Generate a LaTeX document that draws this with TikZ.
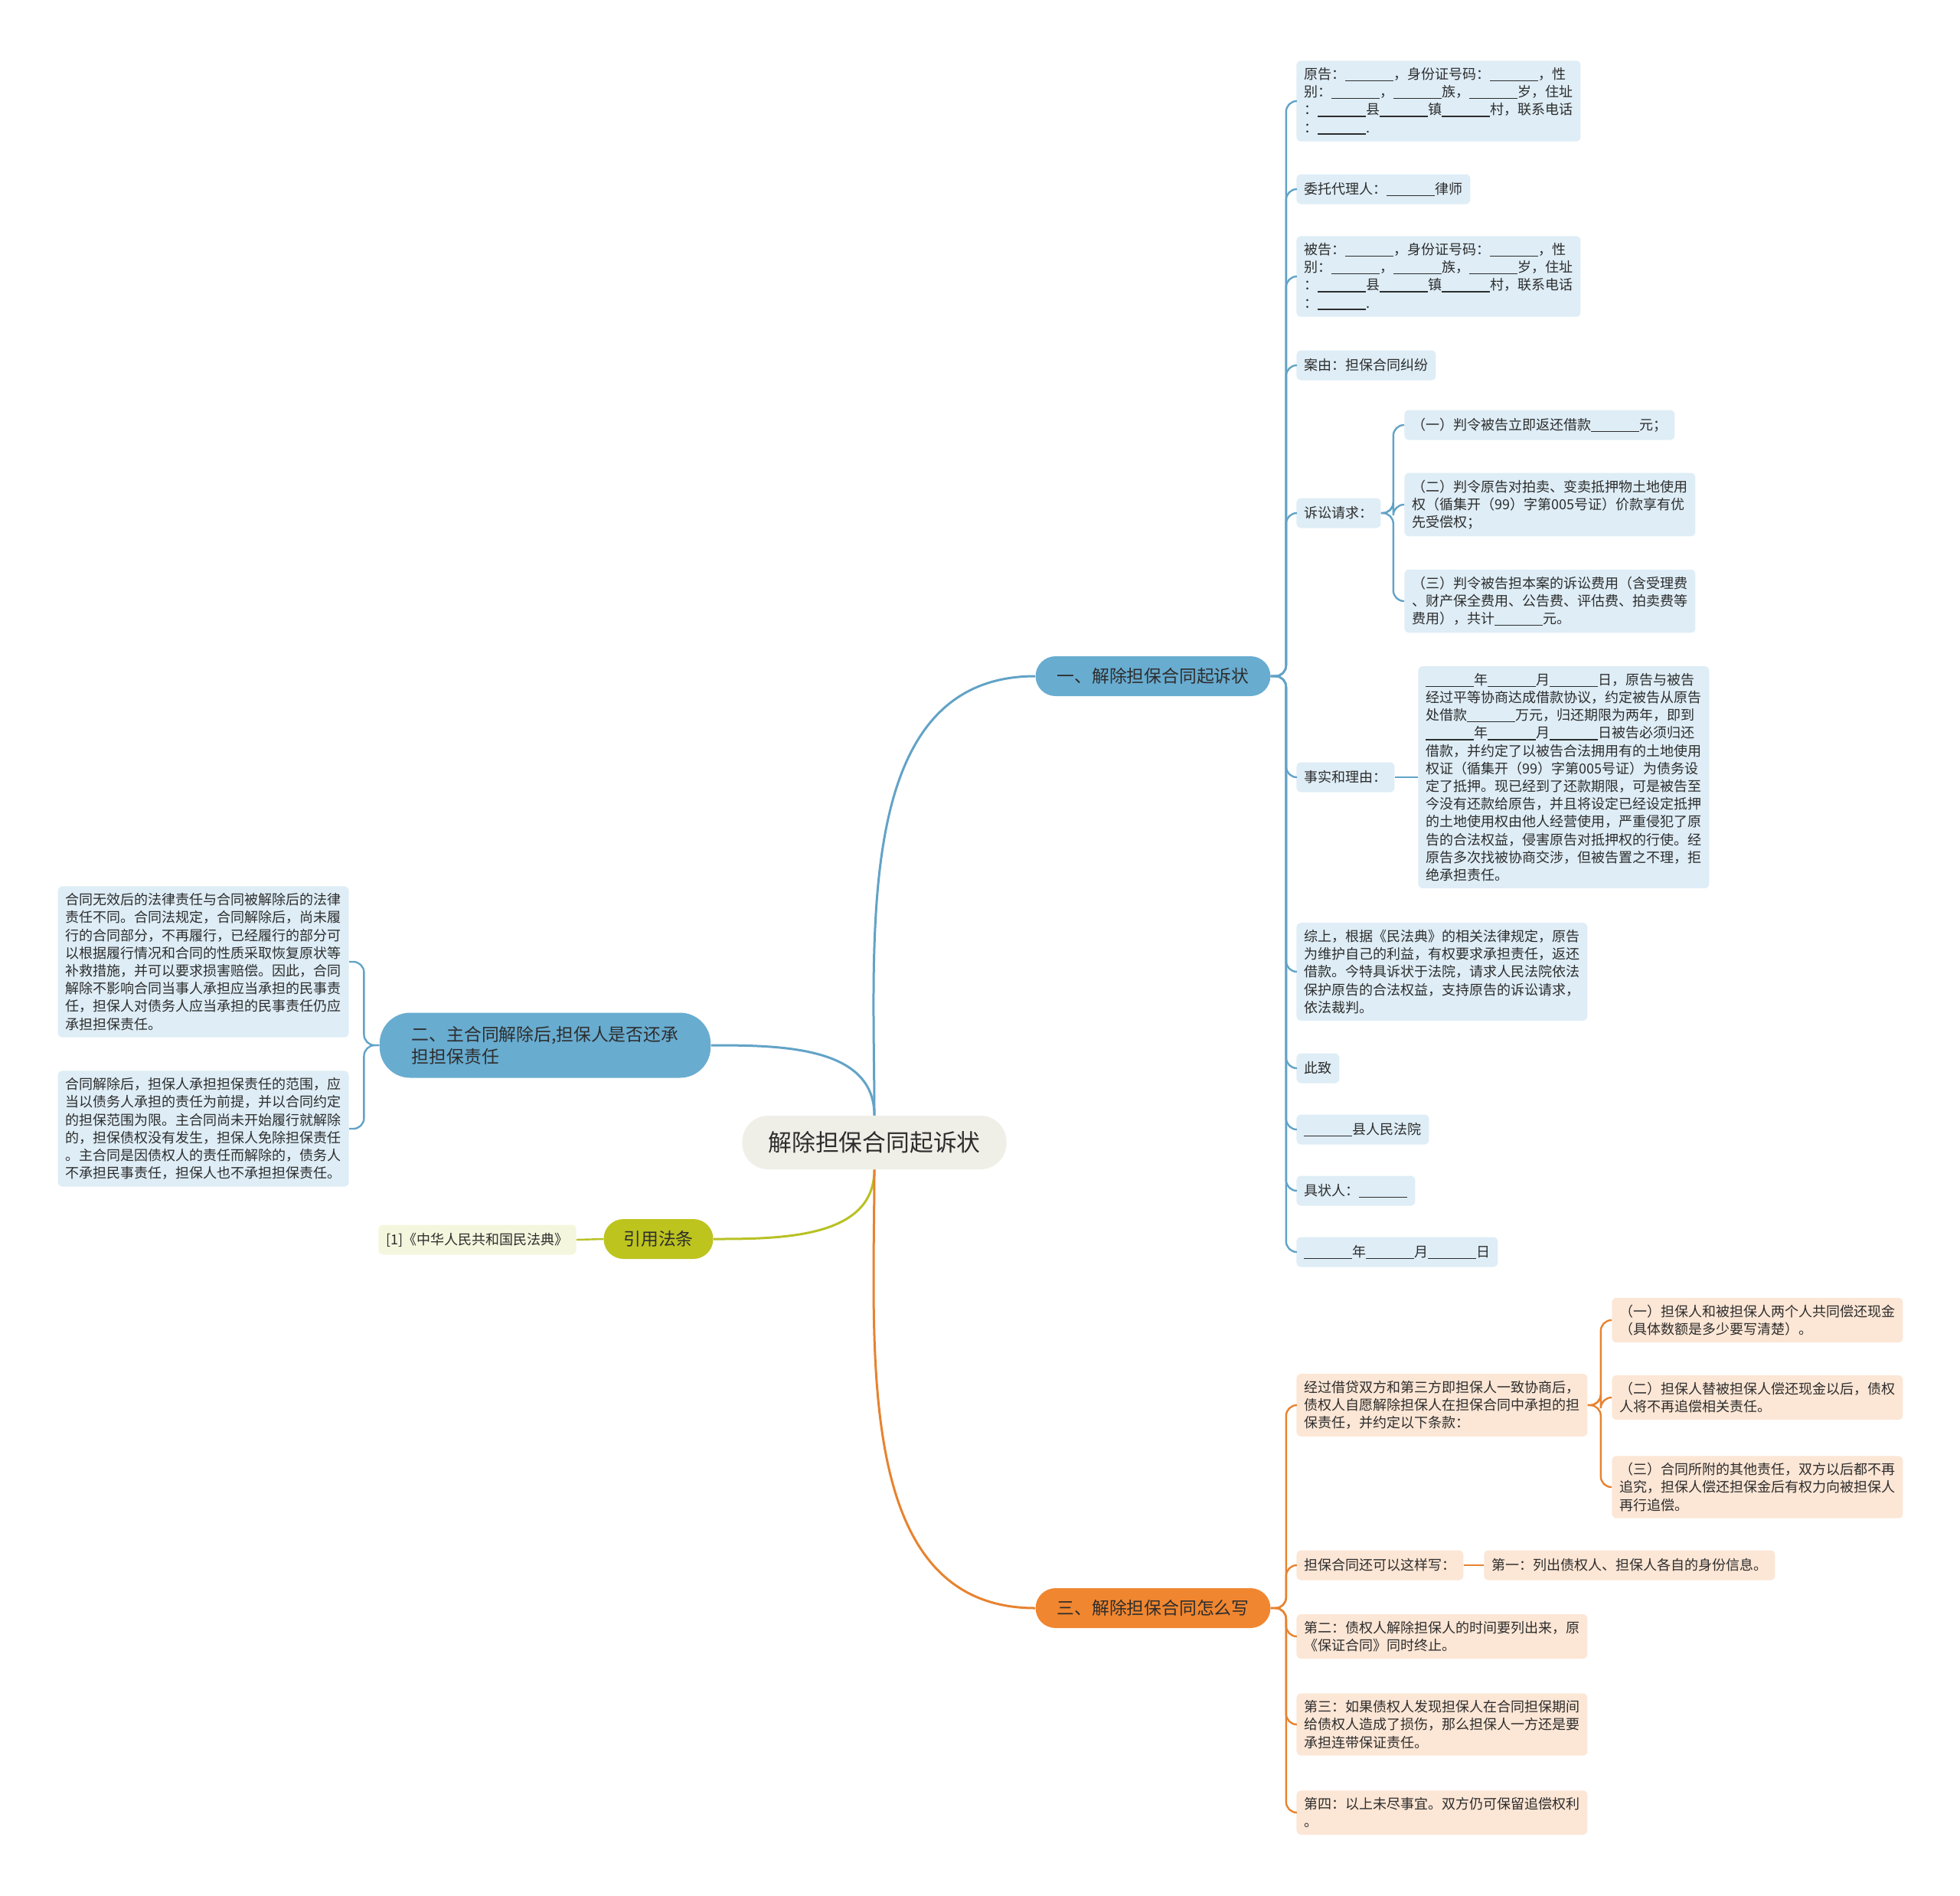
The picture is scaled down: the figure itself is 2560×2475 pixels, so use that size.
\documentclass[tikz,border=0pt]{standalone}
\usepackage{fontspec}
\setmainfont{Noto Sans CJK SC}
\newcommand{\fillin}{\rule[-0.15em]{3.5em}{0.7pt}}
\begin{document}
\begin{tikzpicture}[x=0.5pt, y=-0.5pt,
    every node/.style={text=txt},
    leaf/.style={fill=#1, rounded corners=3pt, align=left, inner xsep=5pt, inner ysep=4.5pt,
      minimum height=19.5pt, font=\fontsize{9}{11.6}\selectfont},
    branch/.style={fill=#1, rounded corners=13pt, minimum height=26pt, inner xsep=14pt,
      font=\fontsize{11.4}{14.7}\selectfont},
    twig/.style={line width=1.2pt, rounded corners=7pt}]
  \definecolor{txt}{RGB}{45,45,45}
  \definecolor{rootfill}{RGB}{240,239,231}
  \definecolor{blueline}{RGB}{98,163,199}
  \definecolor{bluefill}{RGB}{104,172,208}
  \definecolor{blueleaf}{RGB}{222,237,246}
  \definecolor{greenline}{RGB}{184,193,36}
  \definecolor{greenfill}{RGB}{189,196,30}
  \definecolor{greenleaf}{RGB}{245,246,222}
  \definecolor{orangeline}{RGB}{231,131,48}
  \definecolor{orangefill}{RGB}{240,134,48}
  \definecolor{orangeleaf}{RGB}{252,230,213}
  \useasboundingbox (0,0) rectangle (2560,2475);

  % centre and main branches
  \node[fill=rootfill, rounded corners=17pt, minimum height=35pt, inner xsep=17pt,
    font=\fontsize{15.4}{18}\selectfont] (root) at (1142,1492) {解除担保合同起诉状};
  \node[branch=bluefill] (b1) at (1506,883) {一、解除担保合同起诉状};
  \node[branch=bluefill, align=left, rounded corners=20pt, minimum height=42.5pt, inner xsep=21pt]
    (b2) at (712,1365) {二、主合同解除后,担保人是否还承\\担担保责任};
  \node[branch=greenfill, inner xsep=13pt] (b3) at (860,1618) {引用法条};
  \node[branch=orangefill] (b4) at (1506,2100) {三、解除担保合同怎么写};

  \draw[blueline, line width=1.5pt] (root.north) to[out=90, in=180] (b1.west);
  \draw[blueline, line width=1.5pt] (root.north) to[out=90, in=0] (b2.east);
  \draw[greenline, line width=1.5pt] (root.south) to[out=-90, in=0] (b3.east);
  \draw[orangeline, line width=1.5pt] (root.south) to[out=-90, in=180] (b4.west);

  % branch 1: the complaint
  \node[leaf=blueleaf, anchor=west] (plaintiff) at (1693,132)
    {原告：\fillin，身份证号码：\fillin，性\\别：\fillin，\fillin 族，\fillin 岁，住址\\：\fillin 县\fillin 镇\fillin 村，联系电话\\：\fillin .};
  \node[leaf=blueleaf, anchor=west] (agent) at (1693,247) {委托代理人：\fillin 律师};
  \node[leaf=blueleaf, anchor=west] (defendant) at (1693,361)
    {被告：\fillin，身份证号码：\fillin，性\\别：\fillin，\fillin 族，\fillin 岁，住址\\：\fillin 县\fillin 镇\fillin 村，联系电话\\：\fillin .};
  \node[leaf=blueleaf, anchor=west] (cause) at (1693,477) {案由：担保合同纠纷};
  \node[leaf=blueleaf, anchor=west] (claims) at (1693,670) {诉讼请求：};
  \node[leaf=blueleaf, anchor=west] (claim1) at (1834,555) {（一）判令被告立即返还借款\fillin 元；};
  \node[leaf=blueleaf, anchor=west] (claim2) at (1834,659)
    {（二）判令原告对拍卖、变卖抵押物土地使用\\权（循集开（99）字第005号证）价款享有优\\先受偿权；};
  \node[leaf=blueleaf, anchor=west] (claim3) at (1834,785)
    {（三）判令被告担本案的诉讼费用（含受理费\\、财产保全费用、公告费、评估费、拍卖费等\\费用），共计\fillin 元。};
  \node[leaf=blueleaf, anchor=west] (facts) at (1693,1015) {事实和理由：};
  \node[leaf=blueleaf, anchor=west] (reason) at (1852,1015)
    {\fillin 年\fillin 月\fillin 日，原告与被告\\
     经过平等协商达成借款协议，约定被告从原告\\
     处借款\fillin 万元，归还期限为两年，即到\\
     \fillin 年\fillin 月\fillin 日被告必须归还\\
     借款，并约定了以被告合法拥用有的土地使用\\
     权证（循集开（99）字第005号证）为债务设\\
     定了抵押。现已经到了还款期限，可是被告至\\
     今没有还款给原告，并且将设定已经设定抵押\\
     的土地使用权由他人经营使用，严重侵犯了原\\
     告的合法权益，侵害原告对抵押权的行使。经\\
     原告多次找被协商交涉，但被告置之不理，拒\\
     绝承担责任。};
  \node[leaf=blueleaf, anchor=west] (summary) at (1693,1269)
    {综上，根据《民法典》的相关法律规定，原告\\
     为维护自己的利益，有权要求承担责任，返还\\
     借款。今特具诉状于法院，请求人民法院依法\\
     保护原告的合法权益，支持原告的诉讼请求，\\
     依法裁判。};
  \node[leaf=blueleaf, anchor=west] (salute) at (1693,1395) {此致};
  \node[leaf=blueleaf, anchor=west] (court) at (1693,1475) {\fillin 县人民法院};
  \node[leaf=blueleaf, anchor=west] (signer) at (1693,1555) {具状人：\fillin};
  \node[leaf=blueleaf, anchor=west] (date) at (1693,1635) {\fillin 年\fillin 月\fillin 日};

  \foreach \n in {plaintiff,agent,defendant,cause,claims,facts,summary,salute,court,signer,date}
    \draw[blueline, twig] (b1.east) -- ++(10pt,0) |- (\n.west);
  \foreach \n in {claim1,claim2,claim3}
    \draw[blueline, twig] (claims.east) -- ++(8pt,0) |- (\n.west);
  \draw[blueline, twig] (facts.east) -- (reason.west);

  % branch 2: guarantor after termination
  \node[leaf=blueleaf, anchor=east] (voidlaw) at (456,1256)
    {合同无效后的法律责任与合同被解除后的法律\\
     责任不同。合同法规定，合同解除后，尚未履\\
     行的合同部分，不再履行，已经履行的部分可\\
     以根据履行情况和合同的性质采取恢复原状等\\
     补救措施，并可以要求损害赔偿。因此，合同\\
     解除不影响合同当事人承担应当承担的民事责\\
     任，担保人对债务人应当承担的民事责任仍应\\
     承担担保责任。};
  \node[leaf=blueleaf, anchor=east] (scope) at (456,1474)
    {合同解除后，担保人承担担保责任的范围，应\\
     当以债务人承担的责任为前提，并以合同约定\\
     的担保范围为限。主合同尚未开始履行就解除\\
     的，担保债权没有发生，担保人免除担保责任\\
     。主合同是因债权人的责任而解除的，债务人\\
     不承担民事责任，担保人也不承担担保责任。};
  \foreach \n in {voidlaw,scope}
    \draw[blueline, twig] (b2.west) -- ++(-10pt,0) |- (\n.east);

  % branch 3: cited law
  \node[leaf=greenleaf, anchor=east] (code) at (753,1619) {[1]《中华人民共和国民法典》};
  \draw[greenline, twig] (b3.west) -- (code.east);

  % branch 4: how to write it
  \node[leaf=orangeleaf, anchor=west] (agree) at (1693,1835)
    {经过借贷双方和第三方即担保人一致协商后，\\债权人自愿解除担保人在担保合同中承担的担\\保责任，并约定以下条款：};
  \node[leaf=orangeleaf, anchor=west] (term1) at (2105,1724)
    {（一）担保人和被担保人两个人共同偿还现金\\（具体数额是多少要写清楚）。};
  \node[leaf=orangeleaf, anchor=west] (term2) at (2105,1825)
    {（二）担保人替被担保人偿还现金以后，债权\\人将不再追偿相关责任。};
  \node[leaf=orangeleaf, anchor=west] (term3) at (2105,1942)
    {（三）合同所附的其他责任，双方以后都不再\\追究，担保人偿还担保金后有权力向被担保人\\再行追偿。};
  \node[leaf=orangeleaf, anchor=west] (alsowrite) at (1693,2044) {担保合同还可以这样写：};
  \node[leaf=orangeleaf, anchor=west] (first) at (1938,2044) {第一：列出债权人、担保人各自的身份信息。};
  \node[leaf=orangeleaf, anchor=west] (second) at (1693,2137)
    {第二：债权人解除担保人的时间要列出来，原\\《保证合同》同时终止。};
  \node[leaf=orangeleaf, anchor=west] (third) at (1693,2252)
    {第三：如果债权人发现担保人在合同担保期间\\给债权人造成了损伤，那么担保人一方还是要\\承担连带保证责任。};
  \node[leaf=orangeleaf, anchor=west] (fourth) at (1693,2367)
    {第四：以上未尽事宜。双方仍可保留追偿权利\\。};

  \foreach \n in {agree,alsowrite,second,third,fourth}
    \draw[orangeline, twig] (b4.east) -- ++(10pt,0) |- (\n.west);
  \foreach \n in {term1,term2,term3}
    \draw[orangeline, twig] (agree.east) -- ++(8.5pt,0) |- (\n.west);
  \draw[orangeline, twig] (alsowrite.east) -- (first.west);
\end{tikzpicture}
\end{document}
